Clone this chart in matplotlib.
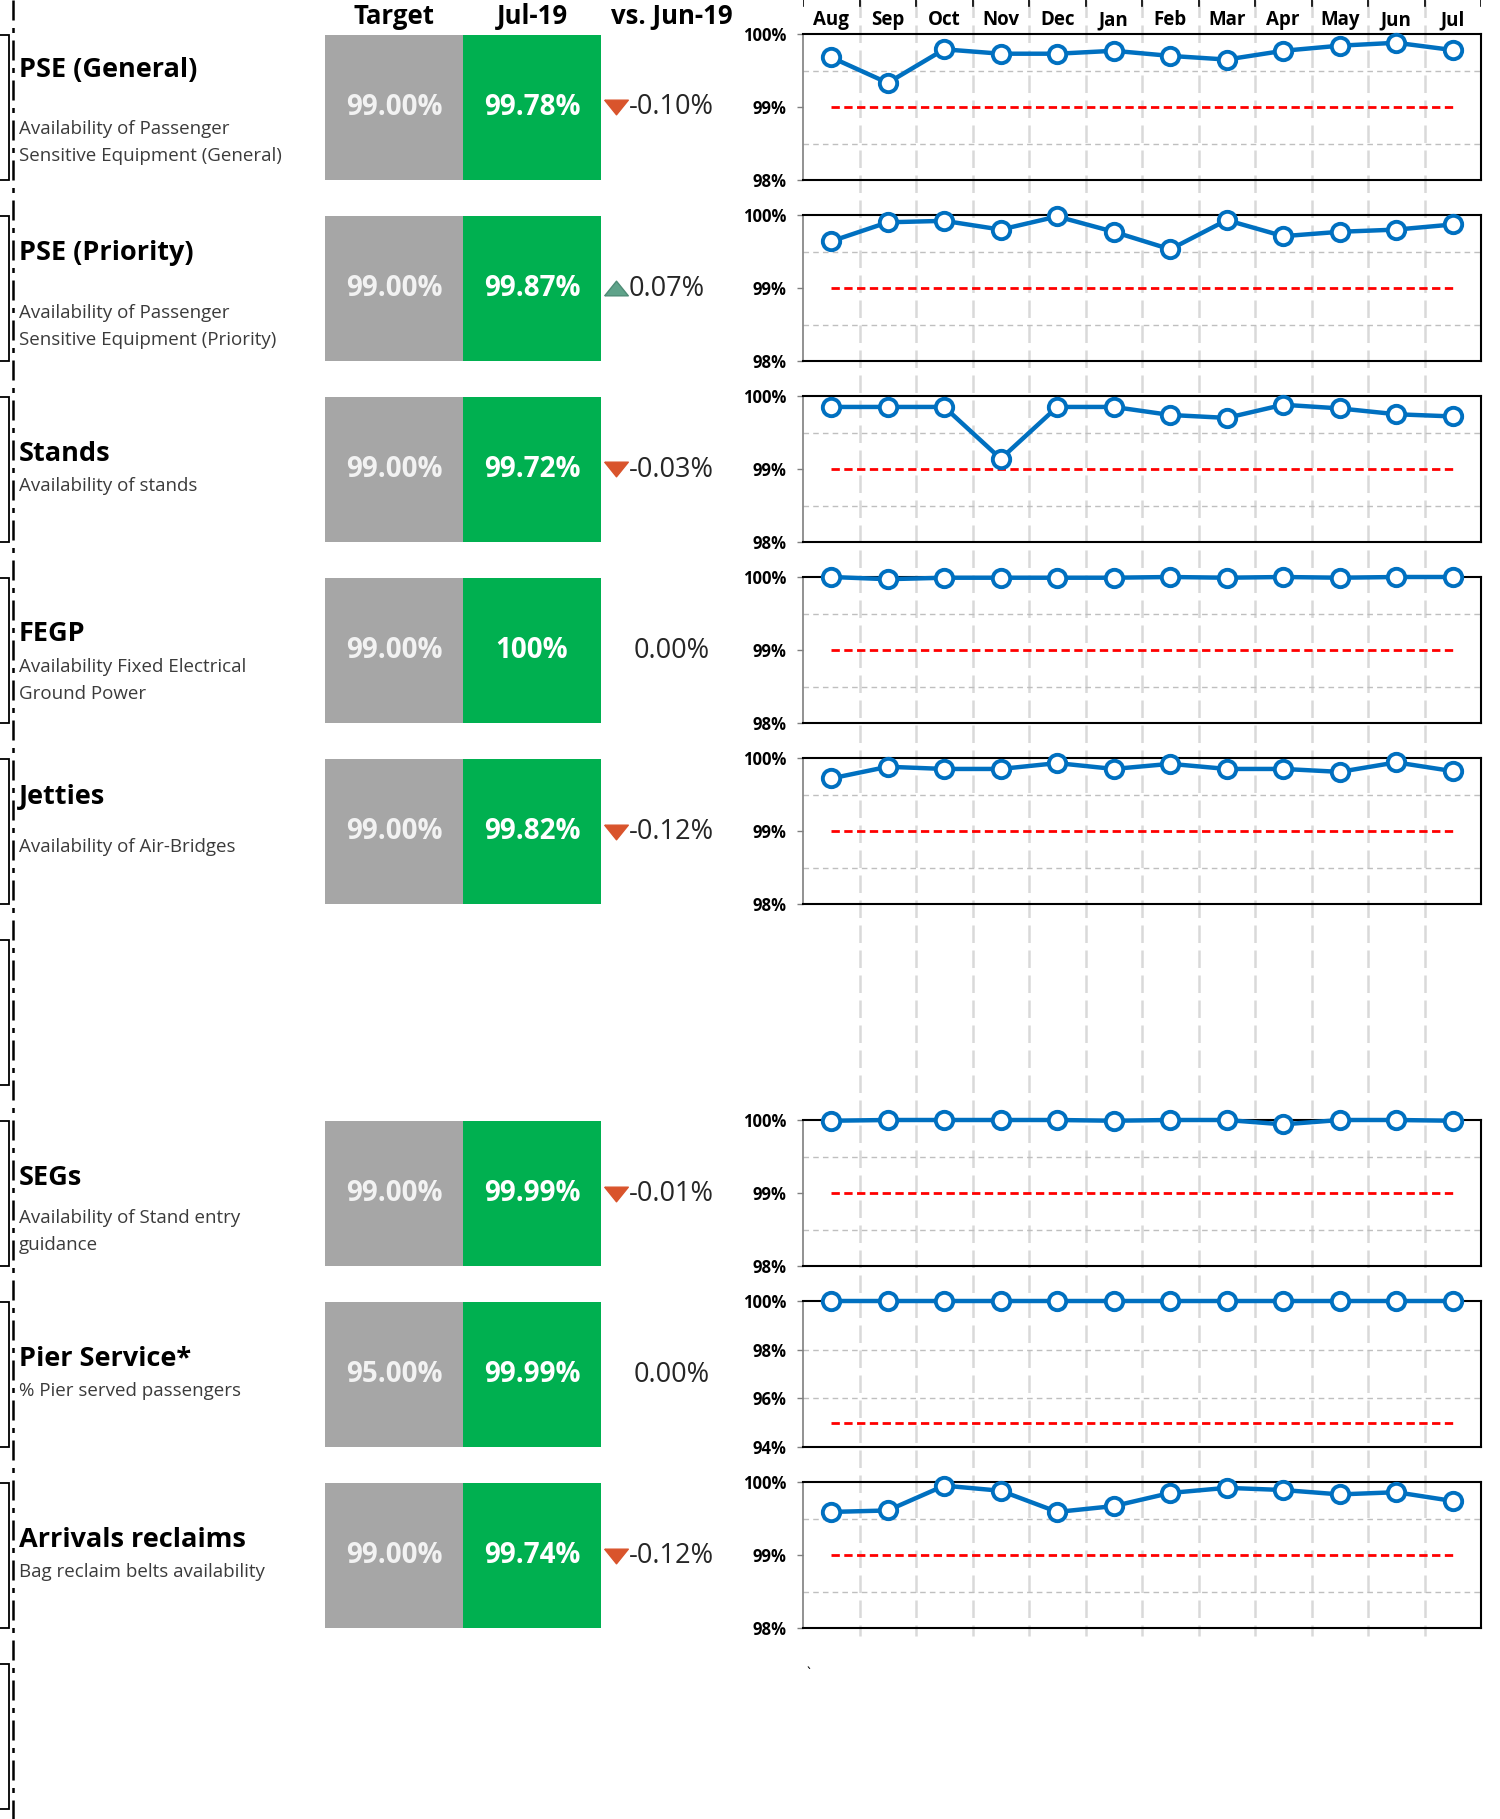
import numpy as np
import matplotlib
matplotlib.use("Agg")
import matplotlib.pyplot as plt
from matplotlib.patches import Rectangle
from matplotlib.path import Path

plt.rcParams['font.family'] = ['Open Sans', 'DejaVu Sans']

# ---- data ----
months = ['Aug', 'Sep', 'Oct', 'Nov', 'Dec', 'Jan', 'Feb', 'Mar', 'Apr', 'May', 'Jun', 'Jul']
header = ['Target', 'Jul-19', 'vs. Jun-19']

titles = ['PSE (General)', 'PSE (Priority)', 'Stands', 'FEGP', 'Jetties',
          'SEGs', 'Pier Service*', 'Arrivals reclaims']
subtitles = [['Availability of Passenger', 'Sensitive Equipment (General)'],
             ['Availability of Passenger', 'Sensitive Equipment (Priority)'],
             ['Availability of stands'],
             ['Availability Fixed Electrical', 'Ground Power'],
             ['Availability of Air-Bridges'],
             ['Availability of Stand entry', 'guidance'],
             ['% Pier served passengers'],
             ['Bag reclaim belts availability']]

targets = [99.0, 99.0, 99.0, 99.0, 99.0, 99.0, 95.0, 99.0]
current = [99.78, 99.87, 99.72, 100.0, 99.82, 99.99, 99.99, 99.74]
change = [-0.10, 0.07, -0.03, 0.00, -0.12, -0.01, 0.00, -0.12]

pse_general = [99.68, 99.33, 99.79, 99.73, 99.73, 99.77, 99.70, 99.65, 99.77, 99.84, 99.88, 99.78]
pse_priority = [99.64, 99.90, 99.92, 99.80, 99.98, 99.77, 99.53, 99.93, 99.71, 99.77, 99.80, 99.87]
stands = [99.85, 99.85, 99.85, 99.14, 99.85, 99.85, 99.74, 99.70, 99.88, 99.83, 99.75, 99.72]
fegp = [100.0, 99.97, 99.99, 99.99, 99.99, 99.99, 100.0, 99.99, 100.0, 99.99, 100.0, 100.0]
jetties = [99.72, 99.88, 99.85, 99.85, 99.93, 99.85, 99.92, 99.85, 99.85, 99.81, 99.94, 99.82]
segs = [99.99, 100.0, 100.0, 100.0, 100.0, 99.99, 100.0, 100.0, 99.94, 100.0, 100.0, 99.99]
pier = [99.99, 99.99, 99.99, 99.99, 99.99, 99.99, 99.99, 99.99, 99.99, 99.99, 99.99, 99.99]
reclaims = [99.59, 99.61, 99.95, 99.88, 99.59, 99.67, 99.85, 99.92, 99.89, 99.83, 99.86, 99.74]
series = [pse_general, pse_priority, stands, fegp, jetties, segs, pier, reclaims]

# ---- layout (pixels) ----
W, H = 1500, 1819
slots = [0, 1, 2, 3, 4, 6, 7, 8]
row_top0, row_pitch, box_h = 35, 181, 145
gray_x, green_x, box_right = 325, 463, 601
chart_left, chart_right = 803, 1481
chart_top0, chart_h = 34, 146
title_dy = [35, 37, 57, 56, 38, 57, 57, 57]
sub_dy = [94, 97, 89, 89, 88, 97, 89, 89]
sub_lead = 27

fig = plt.figure(figsize=(W / 100, H / 100), dpi=100)

# background column lines and month labels
bg = fig.add_axes([chart_left / W, 0, (chart_right - chart_left) / W, 1])
bg.set_xlim(-0.5, 11.5)
bg.set_ylim(H, 0)
bg.axis('off')
bounds = np.arange(-0.5, 12, 1.0)
for b in bounds[1:-1]:
    bg.plot([b, b], [0, 1636], color='#D9D9D9', lw=1.8, ls=(0, (7, 3)), zorder=0)
for b in bounds:
    bg.plot([b, b], [0, 6], color='black', lw=1.2, zorder=1)
for i, m in enumerate(months):
    bg.text(i, 20, m, ha='center', va='center', fontsize=13.5, fontweight='bold')

# overlay for the table part
ov = fig.add_axes([0, 0, 1, 1])
ov.set_xlim(0, W)
ov.set_ylim(H, 0)
ov.axis('off')
ov.text(806, 1674, '`', ha='left', va='center', fontsize=10)

# left dash-dot rule and cut-off brackets
ov.plot([13, 13], [0, H], color='black', lw=1.8, ls=(0, (8, 3, 2, 3)))
for s in range(10):
    t = row_top0 + s * row_pitch
    ov.plot([0, 9, 9, 0], [t, t, t + box_h, t + box_h], color='black', lw=1.3,
            solid_joinstyle='miter')

# header
for xc, lab in zip([(gray_x + green_x) / 2, (green_x + box_right) / 2, 672], header):
    ov.text(xc, 16, lab, ha='center', va='center', fontsize=18.5, fontweight='bold')

tri_down = Path([(-1, 0.62), (1, 0.62), (0, -0.62), (-1, 0.62)])
tri_up = Path([(-1, -0.62), (1, -0.62), (0, 0.62), (-1, -0.62)])

def fmt(v):
    return '100%' if v >= 100 else f'{v:.2f}%'

for k, s in enumerate(slots):
    t = row_top0 + s * row_pitch
    yc = t + box_h / 2
    ov.text(19, t + title_dy[k], titles[k], ha='left', va='center', fontsize=19.5, fontweight='bold')
    for j, line in enumerate(subtitles[k]):
        ov.text(19, t + sub_dy[k] + j * sub_lead, line, ha='left', va='center',
                fontsize=13.5, color='#3B3B3B')
    ov.add_patch(Rectangle((gray_x, t), green_x - gray_x, box_h, color='#A6A6A6', lw=0))
    ov.add_patch(Rectangle((green_x, t), box_right - green_x, box_h, color='#00B050', lw=0))
    ov.text((gray_x + green_x) / 2, yc, fmt(targets[k]), ha='center', va='center',
            fontsize=20, fontweight='bold', color='#F2F2F2')
    ov.text((green_x + box_right) / 2, yc, fmt(current[k]), ha='center', va='center',
            fontsize=20, fontweight='bold', color='white')
    d = change[k]
    if d == 0:
        ov.text(672, yc, f'{d:.2f}%', ha='center', va='center', fontsize=19.5, color='#262626')
    else:
        if d < 0:
            ov.plot(616, yc, marker=tri_down, ms=17, color='#D9542C', mec='#D9542C')
        else:
            ov.plot(616, yc, marker=tri_up, ms=17, color='#5FA38A', mec='#4E8C76')
        ov.text(629, yc, f'{d:.2f}%', ha='left', va='center', fontsize=19.5, color='#262626')

# small multiples
x = np.arange(len(months))
for k, s in enumerate(slots):
    top = chart_top0 + s * row_pitch
    ax = fig.add_axes([chart_left / W, 1 - (top + chart_h) / H,
                       (chart_right - chart_left) / W, chart_h / H])
    ax.set_facecolor('none')
    if targets[k] < 98:
        lo, ticks, grid = 94, [94, 96, 98, 100], [96, 98]
    else:
        lo, ticks, grid = 98, [98, 99, 100], [98.5, 99.5]
    for g in grid:
        ax.axhline(g, color='#BFBFBF', lw=1, ls=(0, (4, 3)), zorder=1)
    ax.plot([0, 11], [targets[k], targets[k]], color='#FF0000', lw=2, ls=(0, (3, 1.6)), zorder=2)
    ax.plot(x, series[k], color='#0070C0', lw=3.2, marker='o', ms=12.5, mfc='white',
            mec='#0070C0', mew=2.8, clip_on=False, zorder=5)
    ax.set_xlim(-0.5, 11.5)
    ax.set_ylim(lo, 100)
    ax.set_yticks(ticks)
    ax.set_yticklabels([f'{v}%' for v in ticks], fontsize=12, fontweight='bold')
    ax.set_xticks([])
    ax.tick_params(axis='y', length=4, width=1, color='#808080', pad=8)
    for sp in ['top', 'right', 'bottom']:
        ax.spines[sp].set_linewidth(1.5)
        ax.spines[sp].set_color('black')
    ax.spines['left'].set_linewidth(1.2)
    ax.spines['left'].set_color('#7F7F7F')

fig.savefig('out.png', dpi=100, facecolor='white')
